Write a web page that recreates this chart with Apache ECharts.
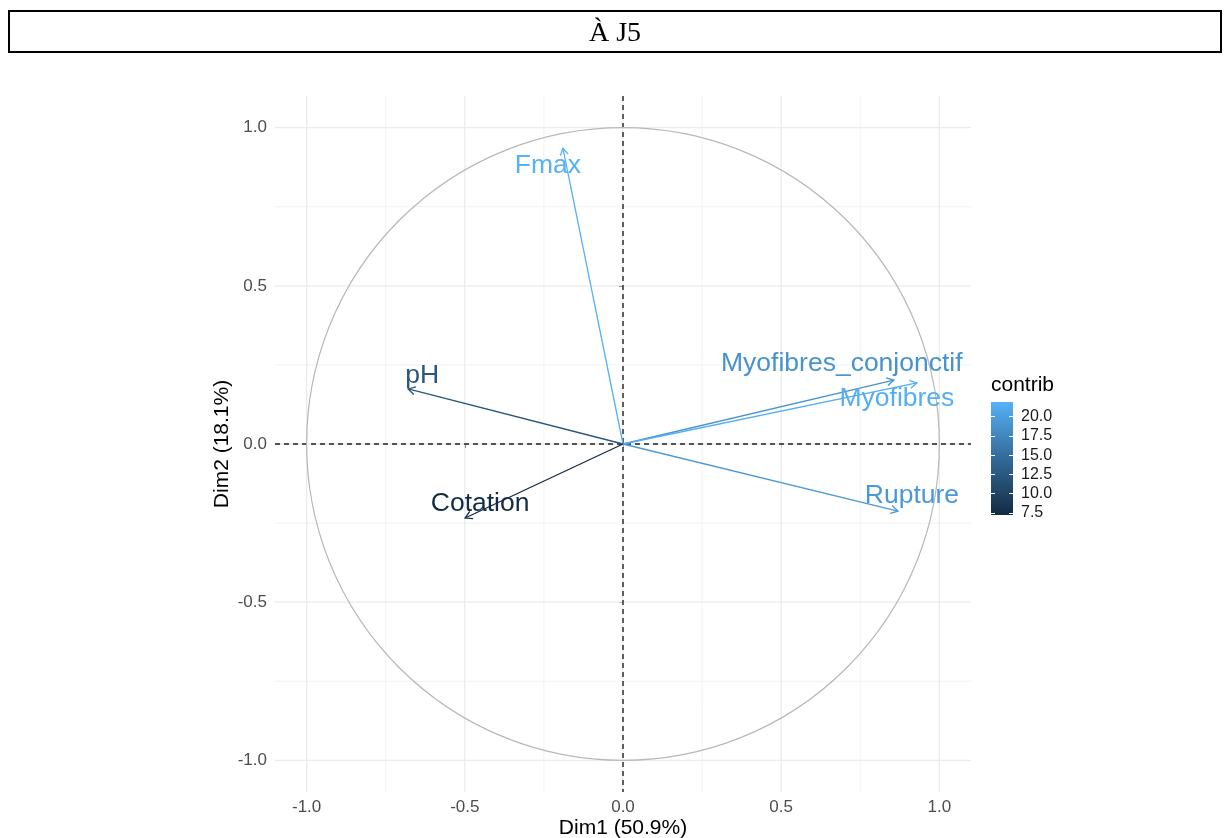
<!DOCTYPE html>
<html><head><meta charset="utf-8">
<script src="https://cdn.jsdelivr.net/npm/echarts@6/dist/echarts.min.js"></script>
<style>
html,body{margin:0;padding:0;background:#fff;}
#chart{position:absolute;left:0;top:0;width:1229px;height:838px;}
#title{position:absolute;left:8px;top:10px;width:1214px;height:43px;box-sizing:border-box;border:2px solid #000;font-family:'Liberation Serif','Times New Roman',serif;font-size:28px;text-align:center;line-height:39px;color:#000;}
</style></head><body>
<div id="chart"></div><div id="title">À J5</div>
<script>
// ---- data ----
const variables = ['Fmax', 'pH', 'Cotation', 'Myofibres_conjonctif', 'Myofibres', 'Rupture'];
const dim1 = [-0.190, -0.679, -0.499, 0.856, 0.929, 0.869];
const dim2 = [0.935, 0.174, -0.234, 0.202, 0.193, -0.212];
const contrib = [21.9, 11.9, 7.24, 18.6, 21.6, 19.3];
const axisTickValues = [-1.0, -0.5, 0.0, 0.5, 1.0];
const minorGridValues = [-0.75, -0.25, 0.25, 0.75];
const contribTicks = [7.5, 10.0, 12.5, 15.0, 17.5, 20.0];
const xTitle = 'Dim1 (50.9%)';
const yTitle = 'Dim2 (18.1%)';
const legendTitle = 'contrib';

// ---- layout / style (not data) ----
const labelOffsets = [[-15, 17], [14, -13], [15, -14], [-52, -16], [-20, 16], [14, -15]];
const FONT = "'Liberation Sans', Arial, Helvetica, sans-serif";
const LOW = '#132B43', HIGH = '#56B1F7';
const cMin = Math.min(...contrib), cMax = Math.max(...contrib);

const arrowData = variables.map((v, i) => [dim1[i], dim2[i], contrib[i], i]);

function gridRender(color, width, dash) {
  return function (params, api) {
    const cs = params.coordSys;
    const v = api.value(0);
    const px = api.coord([v, 0])[0];
    const py = api.coord([0, v])[1];
    const style = { stroke: color, lineWidth: width, lineDash: dash || null, fill: null };
    return { type: 'group', children: [
      { type: 'line', shape: { x1: px, y1: cs.y, x2: px, y2: cs.y + cs.height }, style },
      { type: 'line', shape: { x1: cs.x, y1: py, x2: cs.x + cs.width, y2: py }, style }
    ]};
  };
}

const chart = echarts.init(document.getElementById('chart'), null, { renderer: 'canvas' });
const tickAxisLabel = (v) => v.toFixed(1);

chart.setOption({
  animation: false,
  textStyle: { fontFamily: FONT },
  grid: [
    { left: 275, top: 96, width: 696, height: 696, containLabel: false, outerBoundsMode: 'none' },
    { left: 991, top: 402, width: 22, height: 113, containLabel: false, outerBoundsMode: 'none' }
  ],
  xAxis: [
    { type: 'value', gridIndex: 0, min: -1.1, max: 1.1,
      axisLine: { show: false }, splitLine: { show: false },
      axisTick: { show: true, customValues: axisTickValues, length: 4, lineStyle: { color: '#333', width: 1 } },
      axisLabel: { customValues: axisTickValues, formatter: tickAxisLabel, fontSize: 17, color: '#4D4D4D', margin: 7 },
      name: xTitle, nameLocation: 'middle', nameGap: 26, nameMoveOverlap: false,
      nameTextStyle: { fontSize: 21, color: '#000', verticalAlign: 'top' } },
    { type: 'value', gridIndex: 1, min: 0, max: 1, show: false }
  ],
  yAxis: [
    { type: 'value', gridIndex: 0, min: -1.1, max: 1.1,
      axisLine: { show: false }, splitLine: { show: false },
      axisTick: { show: true, customValues: axisTickValues, length: 4, lineStyle: { color: '#333', width: 1 } },
      axisLabel: { customValues: axisTickValues, formatter: tickAxisLabel, fontSize: 17, color: '#4D4D4D', margin: 8 },
      name: yTitle, nameLocation: 'middle', nameGap: 42, nameMoveOverlap: false,
      nameTextStyle: { fontSize: 21, color: '#000' } },
    { type: 'value', gridIndex: 1, position: 'left', min: cMin, max: cMax, z: 10,
      axisLine: { show: false }, splitLine: { show: false },
      axisTick: { show: true, inside: true, customValues: contribTicks, length: 4, lineStyle: { color: '#fff', width: 1 } },
      axisLabel: { show: false },
      name: legendTitle, nameLocation: 'end', nameGap: 6, nameMoveOverlap: false,
      nameTextStyle: { fontSize: 21, color: '#000', align: 'left', verticalAlign: 'bottom' } },
    { type: 'value', gridIndex: 1, position: 'right', min: cMin, max: cMax, z: 10,
      axisLine: { show: false }, splitLine: { show: false },
      axisTick: { show: true, inside: true, customValues: contribTicks, length: 4, lineStyle: { color: '#fff', width: 1 } },
      axisLabel: { customValues: contribTicks, formatter: tickAxisLabel, fontSize: 16, color: '#1a1a1a', margin: 8 } }
  ],
  visualMap: {
    show: false, type: 'continuous', seriesIndex: 4, dimension: 2,
    min: cMin, max: cMax, inRange: { color: [LOW, HIGH] }
  },
  series: [
    { type: 'custom', xAxisIndex: 0, yAxisIndex: 0, z: 1, silent: true,
      data: minorGridValues.map(v => [v, v]), renderItem: gridRender('#F2F2F2', 1) },
    { type: 'custom', xAxisIndex: 0, yAxisIndex: 0, z: 1, silent: true,
      data: axisTickValues.map(v => [v, v]), renderItem: gridRender('#EBEBEB', 1.3) },
    { type: 'custom', xAxisIndex: 0, yAxisIndex: 0, z: 2, silent: true,
      data: [[0, 0]], renderItem: gridRender('#222', 1.4, [5, 4]) },
    { type: 'custom', xAxisIndex: 0, yAxisIndex: 0, z: 3, silent: true,
      data: [[0, 0, 1]],
      renderItem: function (params, api) {
        const c = api.coord([api.value(0), api.value(1)]);
        const r = api.size([api.value(2), 0])[0];
        return { type: 'circle', shape: { cx: c[0], cy: c[1], r: r },
          style: { stroke: '#B8B8B8', lineWidth: 1.2, fill: null } };
      } },
    { type: 'custom', xAxisIndex: 0, yAxisIndex: 0, z: 4, silent: true,
      data: arrowData,
      renderItem: function (params, api) {
        const o = api.coord([0, 0]);
        const t = api.coord([api.value(0), api.value(1)]);
        const idx = api.value(3);
        const color = api.visual('color');
        const ang = Math.atan2(t[1] - o[1], t[0] - o[0]);
        const L = 8, A = Math.PI / 6;
        const p1 = [t[0] - L * Math.cos(ang - A), t[1] - L * Math.sin(ang - A)];
        const p2 = [t[0] - L * Math.cos(ang + A), t[1] - L * Math.sin(ang + A)];
        const off = labelOffsets[idx];
        return { type: 'group', children: [
          { type: 'line', shape: { x1: o[0], y1: o[1], x2: t[0], y2: t[1] }, style: { stroke: color, lineWidth: 1.3 } },
          { type: 'polyline', shape: { points: [p1, t, p2] }, style: { stroke: color, lineWidth: 1.3, fill: null } },
          { type: 'text', x: t[0] + off[0], y: t[1] + off[1],
            style: { text: variables[idx], fill: color, font: '26.5px ' + FONT, align: 'center', verticalAlign: 'middle' } }
        ]};
      } },
    { type: 'custom', xAxisIndex: 1, yAxisIndex: 1, z: 2, silent: true,
      data: [[0, cMin, 1, cMax]],
      renderItem: function (params, api) {
        const a = api.coord([api.value(0), api.value(3)]);
        const b = api.coord([api.value(2), api.value(1)]);
        return { type: 'rect', shape: { x: a[0], y: a[1], width: b[0] - a[0], height: b[1] - a[1] },
          style: { fill: new echarts.graphic.LinearGradient(0, 0, 0, 1, [
            { offset: 0, color: HIGH }, { offset: 0.5, color: '#336A98' }, { offset: 1, color: LOW }]) } };
      } }
  ]
});
</script>
</body></html>
